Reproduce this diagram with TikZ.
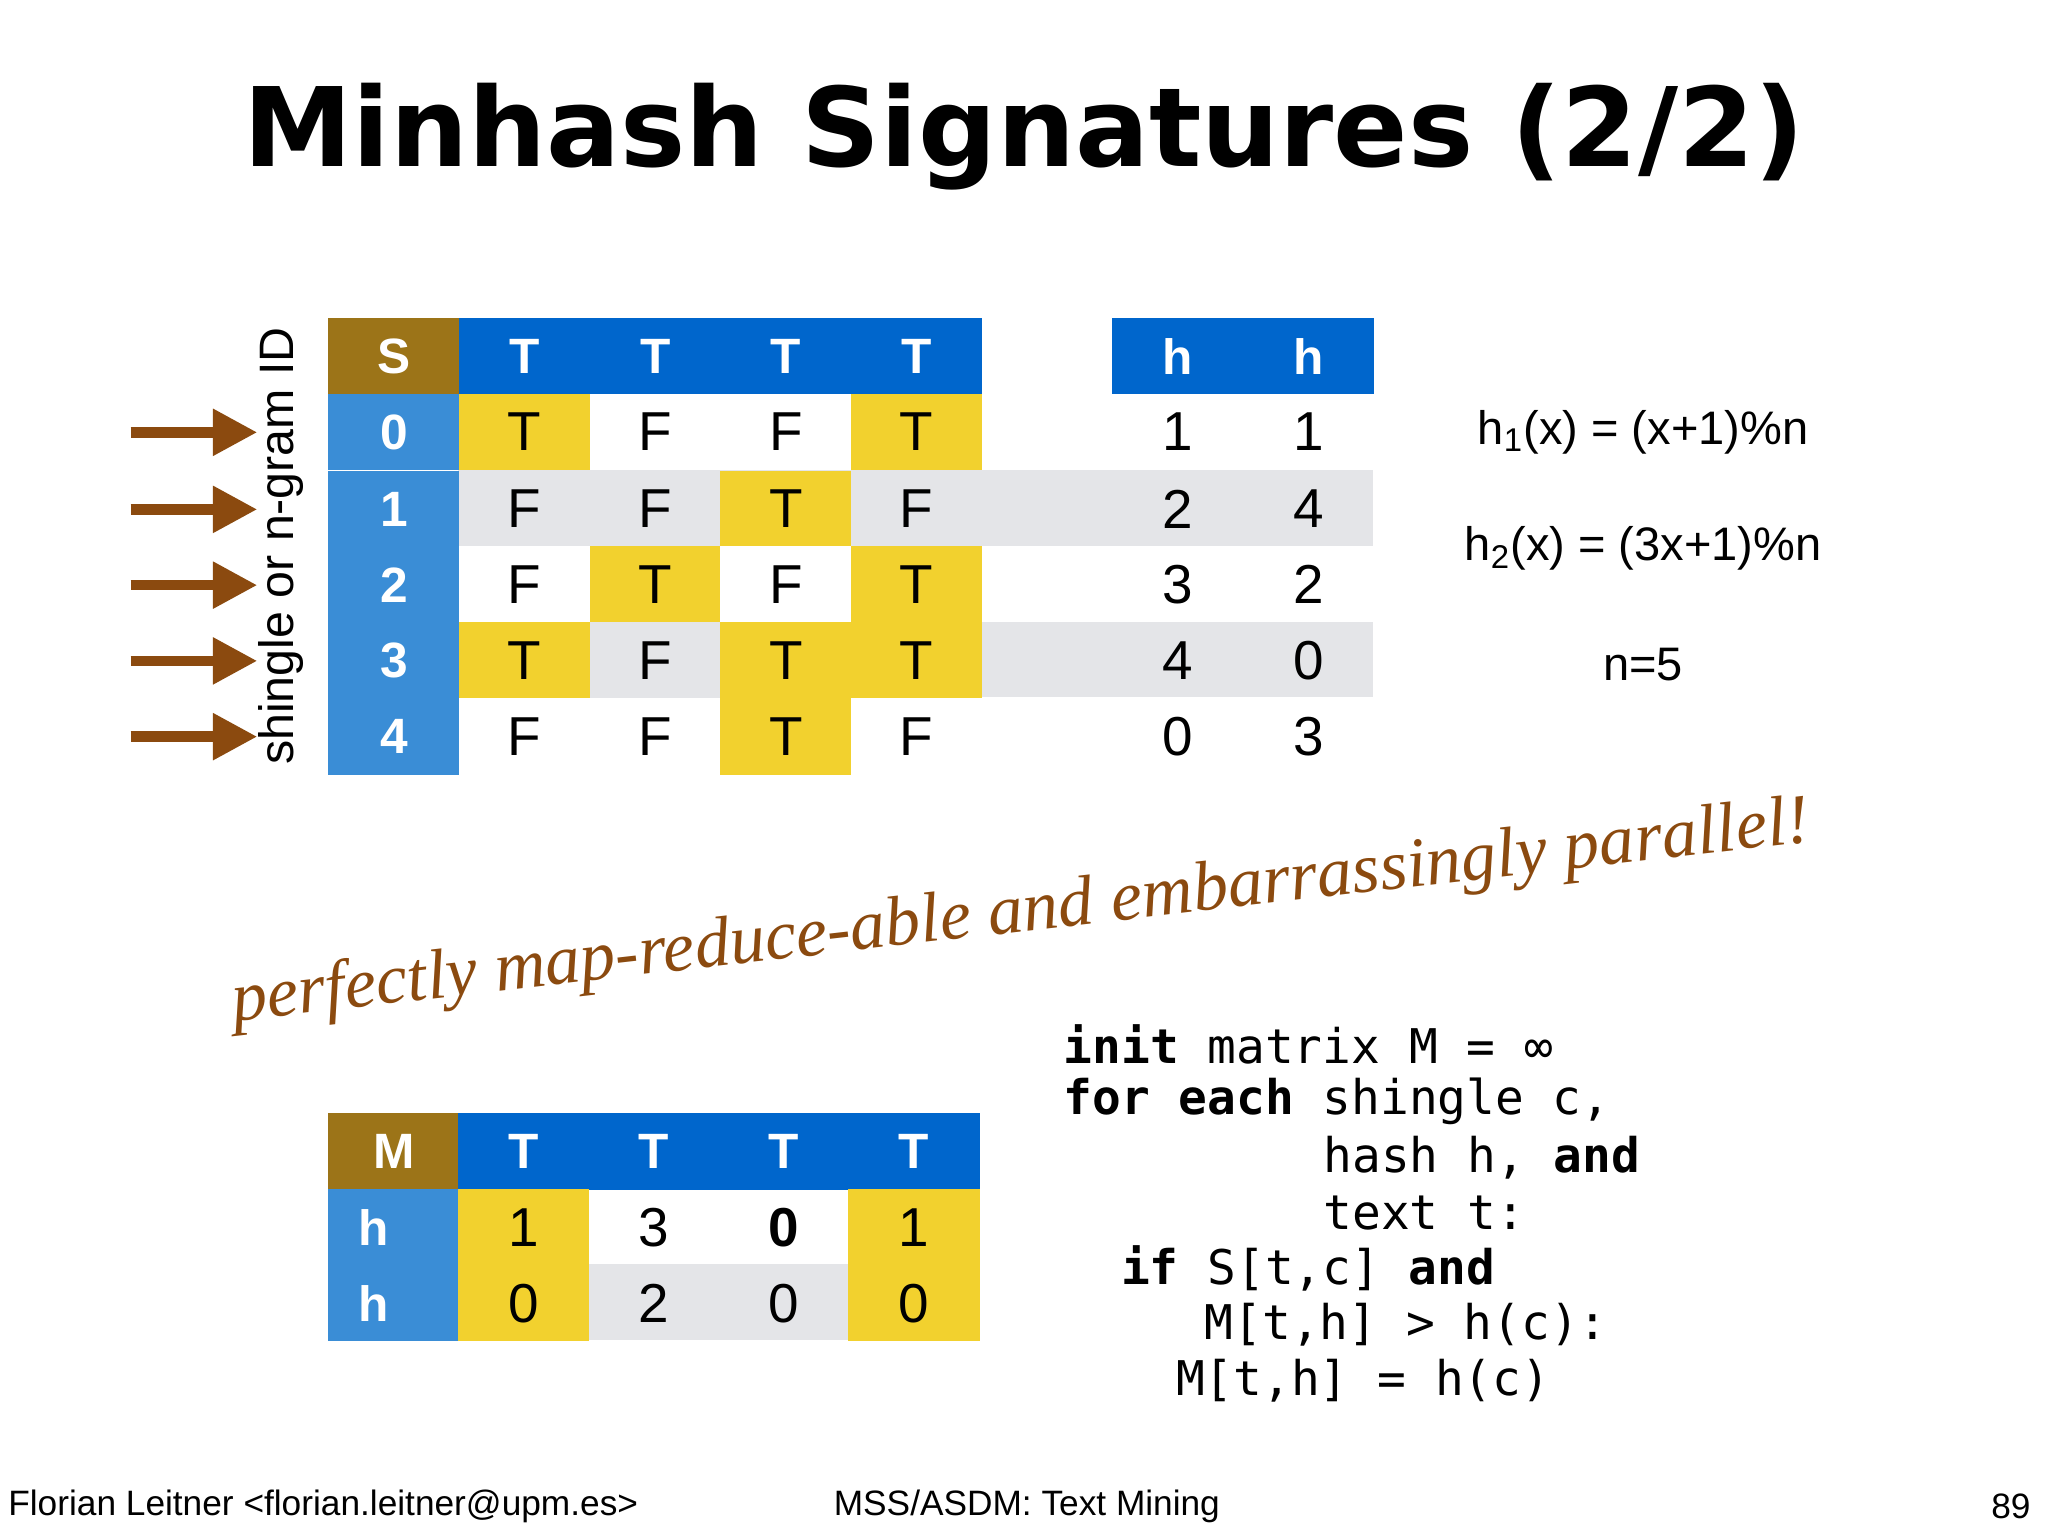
\documentclass[tikz,border=0pt]{standalone}
\usepackage{fontspec}
\usetikzlibrary{arrows.meta}
\setmainfont{Liberation Sans}
\setmonofont{DejaVu Sans Mono}
\newfontfamily\titlefont{DejaVu Sans}
\newfontfamily\handfont{Liberation Serif}
\definecolor{gold}{HTML}{9C7418}
\definecolor{hblue}{HTML}{0066CC}
\definecolor{lblue}{HTML}{3A8DD6}
\definecolor{yel}{HTML}{F2D12E}
\definecolor{gr}{HTML}{E4E5E8}
\definecolor{brn}{HTML}{8B4A0F}
\begin{document}
\begin{tikzpicture}[x=0.5pt,y=-0.5pt,
  cellb/.style={anchor=north west,inner sep=0pt,minimum width=50.3pt,minimum height=29.3pt,font=\fontsize{21}{21}\selectfont},
  hd/.style={cellb,text=white,font=\fontsize{19}{19}\selectfont\bfseries},
  arr/.style={draw=brn,line width=4pt,-{Triangle[length=17pt,width=17pt]}},
  code/.style={anchor=west,inner sep=0pt,font=\fontsize{18.3}{18.3}\selectfont\ttfamily}]
\useasboundingbox (0,0) rectangle (1568,1176);
\fill[white] (0,0) rectangle (1568,1176);
\node[font=\fontsize{42}{42}\selectfont\titlefont\bfseries] (title) at (784,105) {Minhash Signatures (2/2)};
% gray rows background
\fill[gr] (351,360) rectangle (1051,418);
\fill[gr] (351,476) rectangle (1051,534);
% header
\node[hd,fill=gold] (s) at (251,243) {S};
\foreach \i/\x in {1/351,2/451,3/551,4/651}{\node[hd,fill=hblue] (t\i) at (\x,243) {T};}
\node[hd,fill=hblue] (h1) at (851,243) {h};
\node[hd,fill=hblue] (h2) at (951,243) {h};
% rows
\foreach \r/\y/\a/\b/\c/\d/\ca/\cb/\cc/\cd/\hx/\hy in {
 0/301/T/F/F/T/yel/white/white/yel/1/1,
 1/360/F/F/T/F/gr/gr/yel/gr/2/4,
 2/418/F/T/F/T/white/yel/white/yel/3/2,
 3/476/T/F/T/T/yel/gr/yel/yel/4/0,
 4/534/F/F/T/F/white/white/yel/white/0/3}{
  \node[hd,fill=lblue] (r\r) at (251,\y) {\r};
  \node[cellb,fill=\ca] (c\r a) at (351,\y) {\a};
  \node[cellb,fill=\cb] (c\r b) at (451,\y) {\b};
  \node[cellb,fill=\cc] (c\r c) at (551,\y) {\c};
  \node[cellb,fill=\cd] (c\r d) at (651,\y) {\d};
  \node[cellb] (hx\r) at (851,\y) {\hx};
  \node[cellb] (hy\r) at (951,\y) {\hy};
  \coordinate (as\r) at (100,\y+30);
  \coordinate (ae\r) at (197,\y+30);
  \draw[arr] (as\r) -- (ae\r);
}
\node[rotate=90,font=\fontsize{18.5}{18.5}\selectfont] (lab) at (215,418) {shingle or n-gram ID};
% formulas
\node[font=\fontsize{18}{18}\selectfont] (f1) at (1258,331) {h\textsubscript{1}(x) = (x+1)\%n};
\node[font=\fontsize{18}{18}\selectfont] (f2) at (1258,420) {h\textsubscript{2}(x) = (3x+1)\%n};
\node[font=\fontsize{18}{18}\selectfont] (f3) at (1258,509) {n=5};
% hand text
\node[rotate=6.5,text=brn,font=\fontsize{27}{27}\selectfont\handfont\itshape] (hand) at (782,700) {perfectly map-reduce-able and embarrassingly parallel!};
% bottom table
\fill[gr] (450,968) rectangle (649,1026);
\node[hd,fill=gold] (m) at (251,852) {M};
\foreach \i/\x in {1/350,2/450,3/549,4/649}{\node[hd,fill=hblue] (bt\i) at (\x,852) {T};}
\node[hd,fill=lblue] (bh1) at (251,910) {\hspace*{-16pt}h};
\node[hd,fill=lblue] (bh2) at (251,968) {\hspace*{-16pt}h};
\node[cellb,fill=yel] (b11) at (350,910) {1};
\node[cellb] (b12) at (450,910) {3};
\node[cellb] (b13) at (549,910) {\bfseries 0};
\node[cellb,fill=yel] (b14) at (649,910) {1};
\node[cellb,fill=yel] (b21) at (350,968) {0};
\node[cellb] (b22) at (450,968) {2};
\node[cellb] (b23) at (549,968) {0};
\node[cellb,fill=yel] (b24) at (649,968) {0};
% code
\node[code] (l1) at (814,800) {\textbf{init} matrix M = ∞};
\node[code] (l2) at (814,843) {\textbf{for each} shingle c,};
\node[code] (l3) at (1013,886) {hash h, \textbf{and}};
\node[code] (l4) at (1013,929) {text t:};
\node[code] (l5) at (858,971) {\textbf{if} S[t,c] \textbf{and}};
\node[code] (l6) at (922,1014) {M[t,h] > h(c):};
\node[code] (l7) at (900,1057) {M[t,h] = h(c)};
% footer
\node[anchor=west,inner sep=0pt,font=\fontsize{13.5}{13.5}\selectfont] (fa) at (6,1153) {Florian Leitner <florian.leitner@upm.es>};
\node[anchor=west,inner sep=0pt,font=\fontsize{13.5}{13.5}\selectfont] (fb) at (638,1153) {MSS/ASDM: Text Mining};
\node[anchor=east,inner sep=0pt,font=\fontsize{13.5}{13.5}\selectfont] (fc) at (1555,1153) {89};
\end{tikzpicture}
\end{document}
